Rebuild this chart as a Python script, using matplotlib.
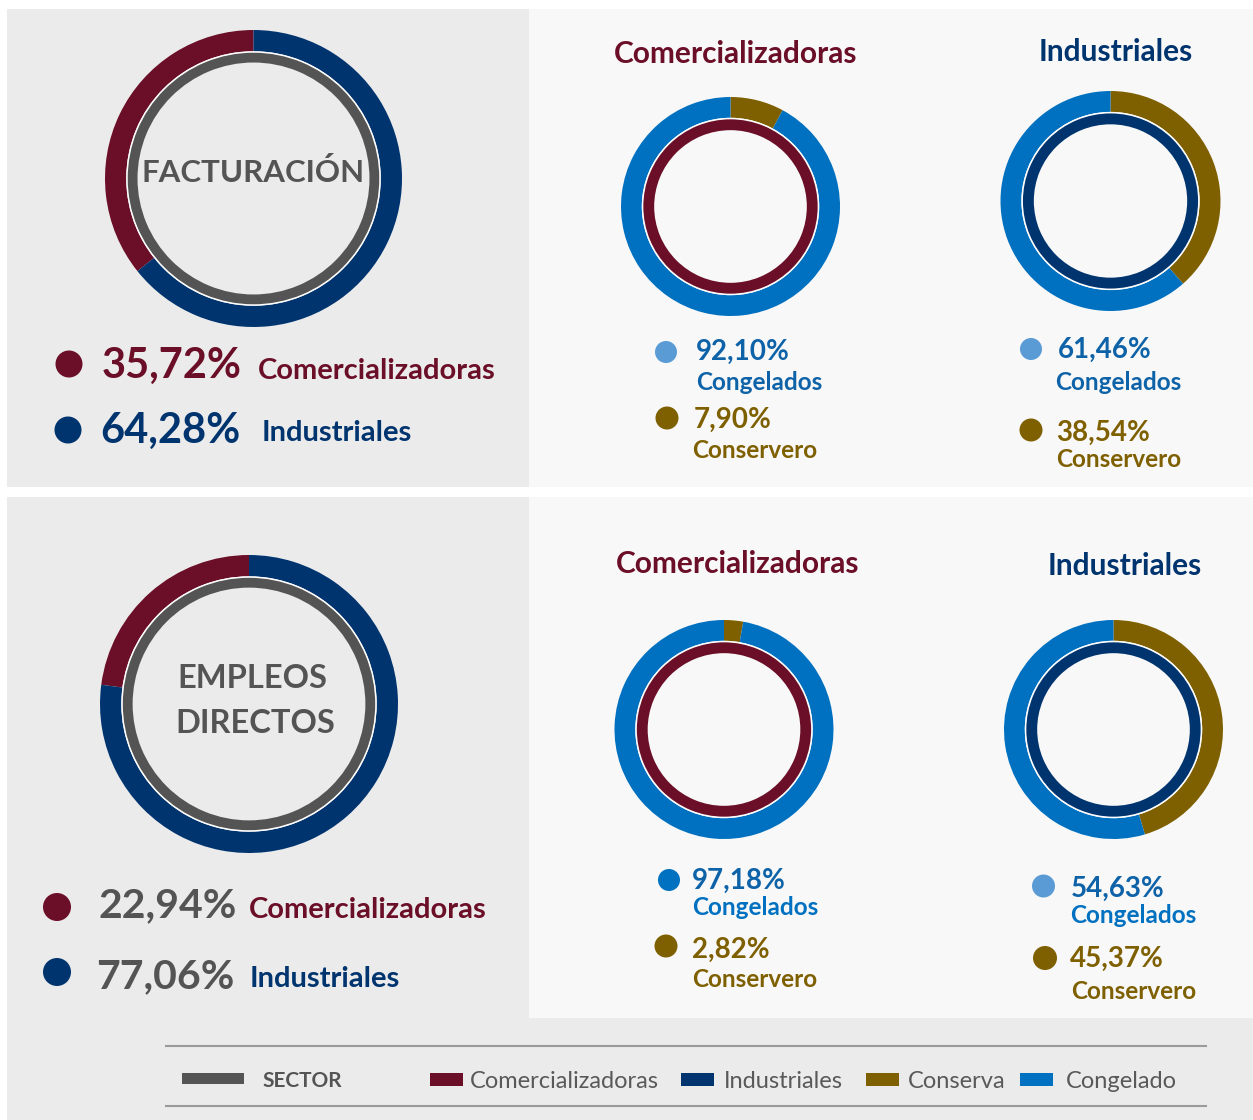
import matplotlib
matplotlib.use("Agg")
import matplotlib.pyplot as plt
from matplotlib.patches import Rectangle, Circle

plt.rcParams["font.family"] = ["Lato", "DejaVu Sans"]

# data
sector_labels = ["Comercializadoras", "Industriales"]
facturacion_sector = [35.72, 64.28]
empleos_sector = [22.94, 77.06]
tipo_labels = ["Conservero", "Congelados"]
fact_comerc = [7.90, 92.10]   # conserva, congelado
fact_indus = [38.54, 61.46]
emp_comerc = [2.82, 97.18]
emp_indus = [45.37, 54.63]
legend_labels = ["SECTOR", "Comercializadoras", "Industriales", "Conserva", "Congelado"]

MAROON = "#6B0E27"
NAVY = "#00346F"
GOLD = "#7F6000"
BLUE = "#0070C0"
LIGHT = "#5B9BD5"
PCTBLUE = "#0E63A8"
GRAY = "#545454"

W, H = 1253, 1120
fig = plt.figure(figsize=(W / 100, H / 100), dpi=100, facecolor="white")
bg = fig.add_axes([0, 0, 1, 1])
bg.set_xlim(0, W)
bg.set_ylim(H, 0)
bg.axis("off")

# panels
bg.add_patch(Rectangle((7, 9), 522, 478, color="#EBEBEB", lw=0))
bg.add_patch(Rectangle((529, 9), 724, 478, color="#F8F8F8", lw=0))
bg.add_patch(Rectangle((7, 497), 522, 521, color="#EBEBEB", lw=0))
bg.add_patch(Rectangle((529, 497), 724, 521, color="#F8F8F8", lw=0))
bg.add_patch(Rectangle((7, 1018), 1246, 102, color="#EBEBEB", lw=0))


def pct(v):
    return f"{v:.2f}%".replace(".", ",")


def txt(x, y, s, size, color, weight="bold", ha="left"):
    bg.text(x, y, s, fontsize=size, color=color, fontweight=weight, ha=ha, va="baseline")


def dot(x, y, r, color):
    bg.add_patch(Circle((x, y), r, color=color, lw=0))


def donut_axes(cx, cy, r):
    ax = fig.add_axes([(cx - r) / W, 1 - (cy + r) / H, 2 * r / W, 2 * r / H])
    ax.set_xlim(-1, 1)
    ax.set_ylim(-1, 1)
    ax.axis("off")
    return ax


def big_donut(cx, cy, r, values):
    ax = donut_axes(cx, cy, r)
    ax.pie(values, colors=[MAROON, NAVY], startangle=90, counterclock=True, radius=1,
           wedgeprops=dict(width=0.143, linewidth=0))
    ax.pie([sum(values)], colors=["white"], radius=0.857, wedgeprops=dict(width=0.012, linewidth=0))
    ax.pie([sum(values)], colors=[GRAY], radius=0.847, wedgeprops=dict(width=0.066, linewidth=0))
    ax.set_xlim(-1, 1)
    ax.set_ylim(-1, 1)


def small_donut(cx, cy, r, values, inner_color):
    ax = donut_axes(cx, cy, r)
    ax.pie(values, colors=[GOLD, BLUE], startangle=90, counterclock=False, radius=1,
           wedgeprops=dict(width=0.19, linewidth=0))
    ax.pie([sum(values)], colors=["white"], radius=0.81, wedgeprops=dict(width=0.014, linewidth=0))
    ax.pie([sum(values)], colors=[inner_color], radius=0.796, wedgeprops=dict(width=0.099, linewidth=0))
    ax.set_xlim(-1, 1)
    ax.set_ylim(-1, 1)


# ---- FACTURACION ----
big_donut(253.5, 178.5, 148.5, facturacion_sector)
txt(253.5, 182, "FACTURACIÓN", 22.5, GRAY, ha="center")
dot(69, 364, 13.5, MAROON)
txt(102, 378, pct(facturacion_sector[0]), 30, MAROON)
txt(258, 379, sector_labels[0], 21, MAROON)
dot(68, 430, 13.5, NAVY)
txt(100, 443, pct(facturacion_sector[1]), 30, NAVY)
txt(262, 441, sector_labels[1], 21, NAVY)

txt(736, 63, sector_labels[0], 21.5, MAROON, ha="center")
txt(1116, 61, sector_labels[1], 21.5, NAVY, ha="center")
small_donut(730.5, 206.5, 109.5, fact_comerc, MAROON)
small_donut(1110.5, 201, 110, fact_indus, NAVY)

dot(666, 352, 11, LIGHT)
txt(696, 360, pct(fact_comerc[1]), 20, PCTBLUE)
txt(696, 390, tipo_labels[1], 17.5, PCTBLUE)
dot(667, 418, 11.5, GOLD)
txt(694, 428, pct(fact_comerc[0]), 20, GOLD)
txt(692, 458, tipo_labels[0], 17.5, GOLD)

dot(1031, 349, 11, LIGHT)
txt(1058, 358, pct(fact_indus[1]), 20, PCTBLUE)
txt(1055, 390, tipo_labels[1], 17.5, PCTBLUE)
dot(1031, 430, 11.5, GOLD)
txt(1056, 441, pct(fact_indus[0]), 20, GOLD)
txt(1056, 467, tipo_labels[0], 17.5, GOLD)

# ---- EMPLEOS DIRECTOS ----
big_donut(249, 704, 149, empleos_sector)
txt(252.5, 688, "EMPLEOS", 23.5, GRAY, ha="center")
txt(255, 733, "DIRECTOS", 23.5, GRAY, ha="center")
dot(57, 907, 14, MAROON)
txt(98, 917, pct(empleos_sector[0]), 29.5, GRAY)
txt(249, 918, sector_labels[0], 21, MAROON)
dot(57, 972, 14, NAVY)
txt(96, 988, pct(empleos_sector[1]), 29.5, GRAY)
txt(250, 987, sector_labels[1], 21, NAVY)

txt(738, 573, sector_labels[0], 21.5, MAROON, ha="center")
txt(1124.5, 575, sector_labels[1], 21.5, NAVY, ha="center")
small_donut(724, 729.5, 109.5, emp_comerc, MAROON)
small_donut(1113.5, 729.5, 109.5, emp_indus, NAVY)

dot(669, 880, 11, BLUE)
txt(692, 889, pct(emp_comerc[1]), 20, PCTBLUE)
txt(692, 915, tipo_labels[1], 17.5, BLUE)
dot(666, 946, 11.5, GOLD)
txt(692, 958, pct(emp_comerc[0]), 20, GOLD)
txt(692, 987, tipo_labels[0], 17.5, GOLD)

dot(1043.5, 886, 11.5, LIGHT)
txt(1071, 897, pct(emp_indus[1]), 20, PCTBLUE)
txt(1070, 923, tipo_labels[1], 17.5, BLUE)
dot(1045, 958, 12, GOLD)
txt(1070, 967, pct(emp_indus[0]), 20, GOLD)
txt(1071, 999, tipo_labels[0], 17.5, GOLD)

# ---- legend ----
bg.plot([166, 1206], [1046, 1046], color="#9A9A9A", lw=1.5)
bg.plot([166, 1206], [1106, 1106], color="#9A9A9A", lw=1.5)
bg.add_patch(Rectangle((182, 1073), 62, 11, color=GRAY, lw=0))
txt(262, 1087, legend_labels[0], 15, GRAY)
key_x = [430, 681, 866, 1020]
text_x = [470, 724, 908, 1066]
key_colors = [MAROON, NAVY, GOLD, BLUE]
for kx, tx, c, lab in zip(key_x, text_x, key_colors, legend_labels[1:]):
    bg.add_patch(Rectangle((kx, 1073), 33, 13, color=c, lw=0))
    txt(tx, 1088, lab, 17, "#595959", weight="normal")

fig.savefig("out.png", dpi=100, facecolor="white")
